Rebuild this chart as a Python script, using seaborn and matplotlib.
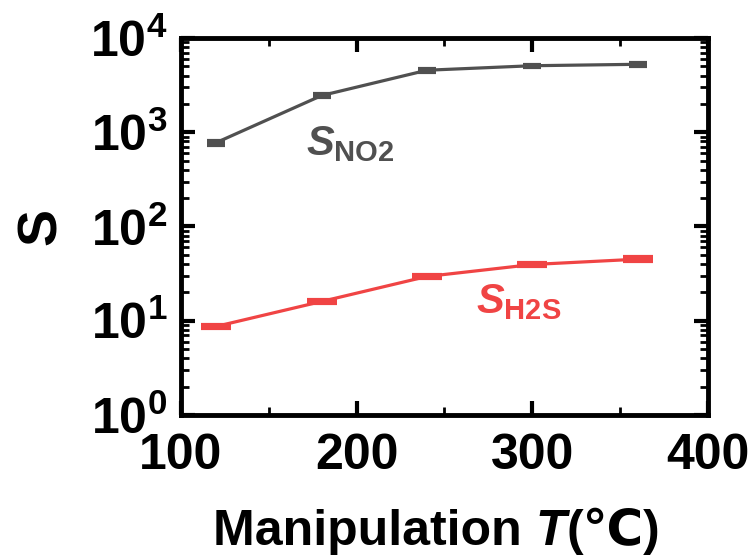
import numpy as np
import pandas as pd
import matplotlib
matplotlib.use('Agg')
import matplotlib.pyplot as plt
import seaborn as sns
from matplotlib.ticker import LogLocator, MultipleLocator

# Data
temps = [120, 180, 240, 300, 360]
s_no2 = [775, 2450, 4550, 5080, 5260]
s_no2_err = [40, 110, 150, 150, 160]
s_h2s = [8.7, 16.0, 29.5, 39.5, 45.0]
s_h2s_err = [0.4, 0.7, 1.0, 1.2, 2.2]

gray = '#505050'
red = '#F04444'

sns.set_theme(style='ticks')
plt.rcParams['font.family'] = ['Liberation Sans', 'DejaVu Sans']
plt.rcParams['font.weight'] = 'bold'
plt.rcParams['text.color'] = 'black'
plt.rcParams['axes.labelcolor'] = 'black'
plt.rcParams['mathtext.fontset'] = 'custom'
plt.rcParams['mathtext.rm'] = 'Liberation Sans:bold'
plt.rcParams['mathtext.it'] = 'Liberation Sans:italic:bold'
plt.rcParams['mathtext.bf'] = 'Liberation Sans:bold'

df = pd.DataFrame({'T': temps + temps,
                   'S': s_no2 + s_h2s,
                   'gas': ['NO2'] * 5 + ['H2S'] * 5})

fig = plt.figure(figsize=(7.56, 5.58), dpi=100)
ax = fig.add_axes([0.2394, 0.2563, 0.6971, 0.6756])

sns.lineplot(data=df, x='T', y='S', hue='gas', palette={'NO2': gray, 'H2S': red},
             linewidth=2.3, legend=False, ax=ax)
ax.errorbar(temps, s_no2, yerr=s_no2_err, fmt='none', ecolor=gray,
            elinewidth=2.3, capsize=6.5, capthick=3)
ax.errorbar(temps, s_h2s, yerr=s_h2s_err, fmt='none', ecolor=red,
            elinewidth=2.3, capsize=11, capthick=3)

ax.set_yscale('log')
ax.set_xlim(100, 400)
ax.set_ylim(1, 1e4)
ax.xaxis.set_major_locator(MultipleLocator(100))
ax.xaxis.set_minor_locator(MultipleLocator(50))
ax.yaxis.set_major_locator(LogLocator(base=10, numticks=10))
ax.yaxis.set_minor_locator(LogLocator(base=10, subs=np.arange(2, 10), numticks=20))

for sp in ax.spines.values():
    sp.set_linewidth(3.5)
    sp.set_color('black')
ax.tick_params(which='both', direction='in', top=True, right=True, width=3, colors='black')
ax.tick_params(which='major', length=10, labelsize=36, pad=10)
ax.tick_params(axis='x', which='major', pad=13)
ax.tick_params(which='minor', length=6, width=2)
ax.set_xlabel('')
ax.set_ylabel('S', fontsize=40, fontweight='bold', labelpad=16)

# x label in three pieces so that T is italic and ℃ can fall back to DejaVu
lab = dict(fontsize=36, fontweight='bold', va='bottom', ha='left')
t1 = fig.text(0.282, 0.006, 'Manipulation ', **lab)
t2 = ax.annotate('T', xy=(1, 0), xycoords=t1, style='italic', **lab)
t3 = ax.annotate('(℃)', xy=(1, 0), xycoords=t2, **lab)

ax.text(171, 574, r'$S_{\mathrm{NO2}}$', color=gray, fontsize=30)
ax.text(268, 12.1, r'$S_{\mathrm{H2S}}$', color=red, fontsize=30)

fig.savefig('out.png', dpi=100)
